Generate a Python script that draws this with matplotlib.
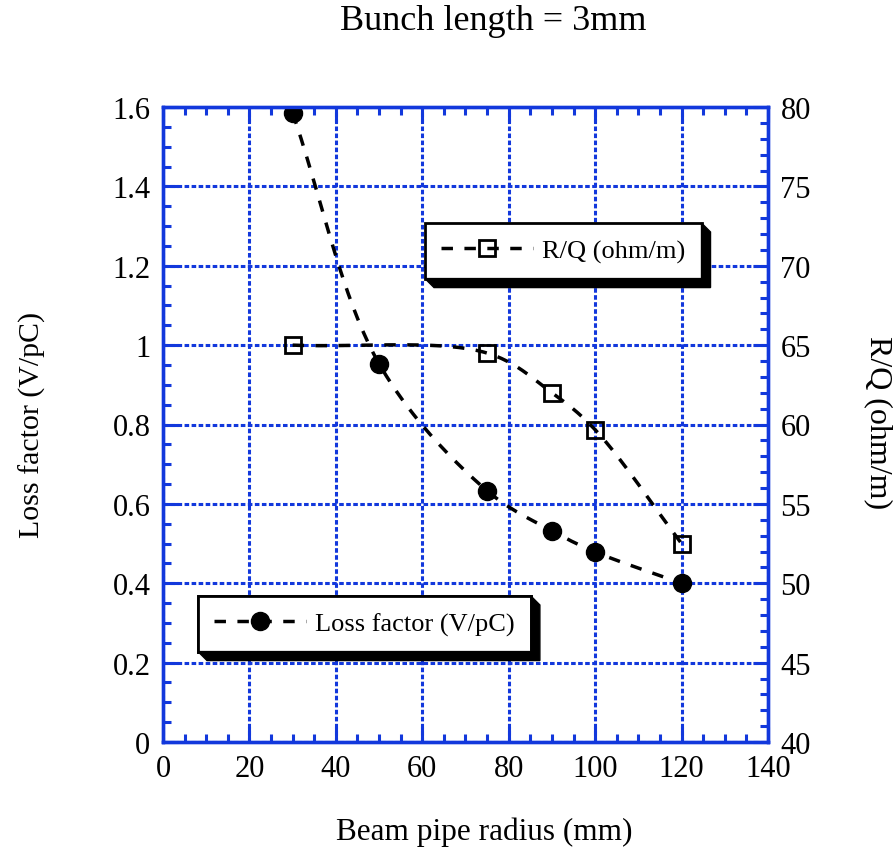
import matplotlib
matplotlib.use("Agg")
import matplotlib.pyplot as plt
import numpy as np
from matplotlib.lines import Line2D
from matplotlib.patches import Polygon
from matplotlib.ticker import MultipleLocator

plt.rcParams['font.family'] = ['Liberation Serif', 'DejaVu Serif']

# values
radius = [30, 50, 75, 90, 100, 120]
loss_factor = [1.585, 0.953, 0.633, 0.532, 0.479, 0.400]
radius_rq = [30, 75, 90, 100, 120]
r_over_q = [65.0, 64.5, 62.0, 59.67, 52.5]

BLUE = '#1238dc'
W, H = 895, 853
DASH = (0, (3.3, 3.3))


def catmull_rom(xs, ys, sx, sy, n=40, alpha=0.5):
    """Smooth curve through the points (centripetal Catmull-Rom), like the original plot."""
    p = np.column_stack([np.asarray(xs, float) * sx, np.asarray(ys, float) * sy])
    p = np.vstack([2 * p[0] - p[1], p, 2 * p[-1] - p[-2]])
    out = []
    for i in range(1, len(p) - 2):
        p0, p1, p2, p3 = p[i - 1], p[i], p[i + 1], p[i + 2]
        t0 = 0.0
        t1 = t0 + np.linalg.norm(p1 - p0) ** alpha
        t2 = t1 + np.linalg.norm(p2 - p1) ** alpha
        t3 = t2 + np.linalg.norm(p3 - p2) ** alpha
        t = np.linspace(t1, t2, n)[:, None]
        a1 = (t1 - t) / (t1 - t0) * p0 + (t - t0) / (t1 - t0) * p1
        a2 = (t2 - t) / (t2 - t1) * p1 + (t - t1) / (t2 - t1) * p2
        a3 = (t3 - t) / (t3 - t2) * p2 + (t - t2) / (t3 - t2) * p3
        b1 = (t2 - t) / (t2 - t0) * a1 + (t - t0) / (t2 - t0) * a2
        b2 = (t3 - t) / (t3 - t1) * a2 + (t - t1) / (t3 - t1) * a3
        c = (t2 - t) / (t2 - t1) * b1 + (t - t1) / (t2 - t1) * b2
        out.append(c if i == len(p) - 3 else c[:-1])
    c = np.vstack(out)
    return c[:, 0] / sx, c[:, 1] / sy


fig = plt.figure(figsize=(W / 100, H / 100), dpi=100)
ax = fig.add_axes([163 / W, 1 - 743 / H, 605 / W, 635 / H])
ax2 = ax.twinx()

ax.set_xlim(0, 140)
ax.set_ylim(0, 1.6)
ax2.set_ylim(40, 80)

ax.xaxis.set_major_locator(MultipleLocator(20))
ax.xaxis.set_minor_locator(MultipleLocator(5))
ax.yaxis.set_major_locator(MultipleLocator(0.2))
ax.yaxis.set_minor_locator(MultipleLocator(0.05))
ax2.yaxis.set_major_locator(MultipleLocator(5))
ax2.yaxis.set_minor_locator(MultipleLocator(1))
ax.yaxis.set_major_formatter(plt.FuncFormatter(lambda v, p: f'{v:g}'))

for a in (ax, ax2):
    for s in a.spines.values():
        s.set_color(BLUE)
        s.set_linewidth(2.4)
    a.tick_params(which='both', direction='in', color=BLUE, width=2.2,
                  labelsize=22, pad=9)
    a.tick_params(which='major', length=11)
    a.tick_params(which='minor', length=6)
ax.tick_params(which='both', top=True, right=False)
ax2.tick_params(which='both', left=False, right=True)

ax.grid(True, which='major', color=BLUE, linestyle=(0, (1.5, 0.8)), linewidth=2.2)
ax.set_axisbelow(True)

# smooth dashed curves + markers
lx, ly = catmull_rom(radius, loss_factor, 605 / 140, 635 / 1.6)
ax.plot(lx, ly, color='black', lw=2.5, linestyle=DASH, zorder=3)
ax.plot(radius, loss_factor, 'o', color='black', ms=13, zorder=4)

rx, ry = catmull_rom(radius_rq, r_over_q, 605 / 140, 635 / 40)
ax2.plot(rx, ry, color='black', lw=2.5, linestyle=DASH, zorder=3)
ax2.plot(radius_rq, r_over_q, 's', color='black', mfc='none', mew=2, ms=11, zorder=4)

# legends with 3D-ish black shadow
h_rq = Line2D([], [], color='black', lw=2.5, linestyle=DASH,
              marker='s', mfc='none', mew=2, ms=11)
h_lf = Line2D([], [], color='black', lw=2.5, linestyle=DASH,
              marker='o', ms=13)

legs = []
for h, lab, x0, y0 in [(h_rq, 'R/Q (ohm/m)', 425, 224),
                       (h_lf, 'Loss factor (V/pC)', 198, 597)]:
    leg = ax2.legend([h], [lab], loc='upper left',
                     bbox_to_anchor=(x0 / W, 1 - y0 / H),
                     bbox_transform=fig.transFigure, borderaxespad=0,
                     fontsize=19, frameon=True, fancybox=False, shadow=False,
                     handlelength=3.5, handletextpad=0.35, borderpad=0.6,
                     numpoints=1, framealpha=1)
    leg.get_frame().set_edgecolor('black')
    leg.get_frame().set_linewidth(2)
    leg.set_zorder(10)
    ax2.add_artist(leg)
    legs.append(leg)

fig.canvas.draw()
d = 9
for leg in legs:
    bb = leg.get_window_extent()
    x0, y0, x1, y1 = bb.x0, bb.y0, bb.x1, bb.y1
    pts = [(x0, y0), (x0 + d, y0 - d), (x1 + d, y0 - d), (x1 + d, y1 - d),
           (x1, y1), (x1, y0)]
    pts = [(px / W, py / H) for px, py in pts]
    fig.add_artist(Polygon(pts, closed=True, facecolor='black',
                           edgecolor='black', transform=fig.transFigure, zorder=9))

fig.text(493 / W, 1 - 22 / H, 'Bunch length = 3mm', ha='center', va='center', fontsize=26)
fig.text(484 / W, 1 - 832 / H, 'Beam pipe radius (mm)', ha='center', va='center', fontsize=22.5)
fig.text(32 / W, 1 - 425 / H, 'Loss factor (V/pC)', ha='center', va='center',
         rotation=90, fontsize=21.5)
fig.text(878 / W, 1 - 423 / H, 'R/Q (ohm/m)', ha='center', va='center',
         rotation=-90, fontsize=23)

fig.savefig('out.png', dpi=100)
